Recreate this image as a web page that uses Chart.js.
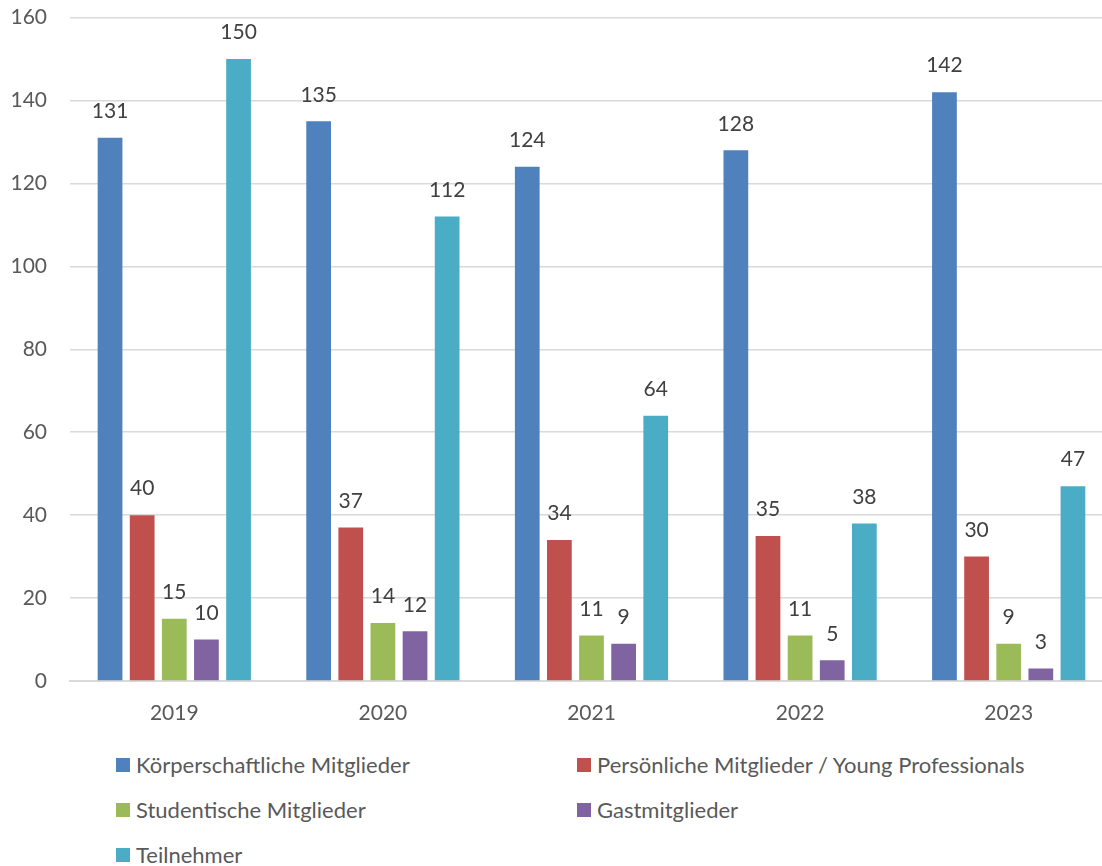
<!DOCTYPE html>
<html>
<head>
<meta charset="utf-8">
<script src="https://cdn.jsdelivr.net/npm/chart.js@4"></script>
<style>
  html, body { margin: 0; padding: 0; background: #fff; overflow: hidden; width: 1102px; height: 866px; }
  #wrap { position: absolute; left: 0; top: -18px; width: 1113px; height: 753px; }
  #legend { position: absolute; left: 0; top: 751px; width: 1102px; font-family: Lato, "Open Sans", sans-serif; font-size: 22px; color: #595959; }
  .item { position: absolute; display: flex; align-items: center; white-space: nowrap; }
  .sw { width: 14px; height: 14px; margin-right: 6px; }
</style>
</head>
<body>
<div id="wrap"><canvas id="c"></canvas></div>
<div id="legend"></div>
<script>
const categories = ["2019", "2020", "2021", "2022", "2023"];
const seriesNames = [
  "Körperschaftliche Mitglieder",
  "Persönliche Mitglieder / Young Professionals",
  "Studentische Mitglieder",
  "Gastmitglieder",
  "Teilnehmer"
];
const koerperschaftlich = [131, 135, 124, 128, 142];
const persoenlich = [40, 37, 34, 35, 30];
const studentisch = [15, 14, 11, 11, 9];
const gast = [10, 12, 9, 5, 3];
const teilnehmer = [150, 112, 64, 38, 47];
const yTicks = [0, 20, 40, 60, 80, 100, 120, 140, 160];
const colors = ["#4F81BD", "#C0504D", "#9BBB59", "#8064A2", "#4BACC6"];

const seriesValues = [koerperschaftlich, persoenlich, studentisch, gast, teilnehmer];
const FONT = 'Lato, "Open Sans", sans-serif';
const TXT = "#595959";

const labelPlugin = {
  id: "valueLabels",
  afterDatasetsDraw(chart) {
    const ctx = chart.ctx;
    ctx.save();
    ctx.font = "21px " + FONT;
    ctx.fillStyle = "#404040";
    ctx.textAlign = "center";
    ctx.textBaseline = "bottom";
    chart.data.datasets.forEach((ds, di) => {
      const meta = chart.getDatasetMeta(di);
      meta.data.forEach((bar, i) => {
        ctx.fillText(String(ds.data[i]), bar.x, bar.y - 16);
      });
    });
    ctx.restore();
  }
};

new Chart(document.getElementById("c"), {
  type: "bar",
  data: {
    labels: categories,
    datasets: seriesNames.map((n, i) => ({
      label: n,
      data: seriesValues[i],
      backgroundColor: colors[i],
      borderWidth: 0,
      categoryPercentage: 0.77,
      barPercentage: 0.77
    }))
  },
  options: {
    responsive: true,
    maintainAspectRatio: false,
    animation: false,
    layout: { padding: { top: 6, right: 0, left: 0, bottom: 0 } },
    plugins: { legend: { display: false }, tooltip: { enabled: false } },
    scales: {
      x: {
        grid: { display: false, drawTicks: false },
        border: { display: true, color: "#d9d9d9", width: 2 },
        ticks: { color: TXT, font: { family: FONT, size: 21 }, padding: 20 },
        afterFit(s) { s.height = 54; }
      },
      y: {
        min: 0, max: 160,
        afterBuildTicks(s) { s.ticks = yTicks.map(v => ({ value: v })); },
        grid: { color: "#d9d9d9", lineWidth: 1.5, drawTicks: false },
        border: { display: false },
        ticks: { color: TXT, font: { family: FONT, size: 21 }, padding: 23 },
        afterFit(s) { s.width = 70; }
      }
    }
  },
  plugins: [labelPlugin]
});

const leg = document.getElementById("legend");
const pos = [[116, 0], [577, 0], [116, 45], [577, 45], [116, 90]];
seriesNames.forEach((n, i) => {
  const d = document.createElement("div");
  d.className = "item";
  d.style.left = pos[i][0] + "px";
  d.style.top = pos[i][1] + "px";
  d.innerHTML = '<span class="sw" style="background:' + colors[i] + '"></span><span></span>';
  d.lastChild.textContent = n;
  leg.appendChild(d);
});
</script>
</body>
</html>
